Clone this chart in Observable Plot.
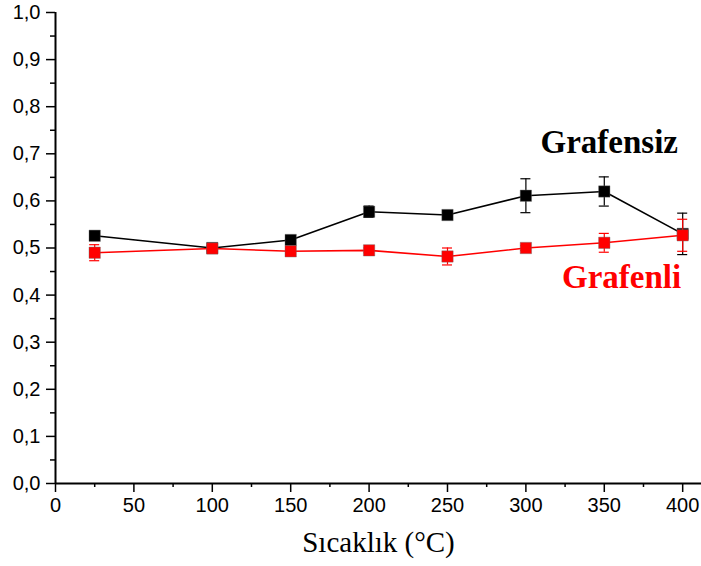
<!DOCTYPE html>
<html>
<head>
<meta charset="utf-8">
<script src="https://cdn.jsdelivr.net/npm/d3@7"></script>
<script src="https://cdn.jsdelivr.net/npm/@observablehq/plot@0.6"></script>
<style>
  html, body { margin: 0; padding: 0; background: #fff; }
  #chart svg { display: block; }
</style>
</head>
<body>
<div id="chart"></div>
<script>
// --- data ---
const temps = [25, 100, 150, 200, 250, 300, 350, 400];
const grafensiz = [0.526, 0.500, 0.517, 0.577, 0.570, 0.611, 0.620, 0.530];
const grafensizErr = [0.005, 0.005, 0.006, 0.012, 0.007, 0.036, 0.031, 0.044];
const grafenli = [0.490, 0.499, 0.493, 0.495, 0.482, 0.500, 0.511, 0.527];
const grafenliErr = [0.017, 0.006, 0.005, 0.005, 0.018, 0.005, 0.020, 0.034];

const xTicks = [0, 50, 100, 150, 200, 250, 300, 350, 400];
const xMinorTicks = [25, 75, 125, 175, 225, 275, 325, 375];
const yTicks = [0, 0.1, 0.2, 0.3, 0.4, 0.5, 0.6, 0.7, 0.8, 0.9, 1.0];
const yMinorTicks = [0.05, 0.15, 0.25, 0.35, 0.45, 0.55, 0.65, 0.75, 0.85, 0.95];

const seriesNames = ["Grafensiz", "Grafenli"];
const seriesColors = ["#000000", "#ff0000"];
const seriesLabelX = [397, 399];
const seriesLabelY = [0.725, 0.4365];
const xAxisTitle = "Sıcaklık (°C)";

// --- build table ---
const rows = [];
[grafensiz, grafenli].forEach((vals, s) => {
  const errs = s === 0 ? grafensizErr : grafenliErr;
  temps.forEach((t, i) => rows.push({series: seriesNames[s], x: t, y: vals[i], e: errs[i]}));
});
const labels = seriesNames.map((n, i) => ({name: n, x: seriesLabelX[i], y: seriesLabelY[i]}));
const comma = d => d.toFixed(1).replace(".", ",");
const capHalf = 3.2;

const marks = [];
seriesNames.forEach((name, s) => {
  const data = rows.filter(r => r.series === name);
  const c = seriesColors[s];
  marks.push(
    Plot.line(data, {x: "x", y: "y", stroke: c, strokeWidth: 1.6}),
    Plot.ruleX(data, {x: "x", y1: d => d.y - d.e, y2: d => d.y + d.e, stroke: c, strokeWidth: 1.2}),
    Plot.ruleY(data, {y: d => d.y - d.e, x1: d => d.x - capHalf, x2: d => d.x + capHalf, stroke: c, strokeWidth: 1.2}),
    Plot.ruleY(data, {y: d => d.y + d.e, x1: d => d.x - capHalf, x2: d => d.x + capHalf, stroke: c, strokeWidth: 1.2}),
    Plot.dot(data, {x: "x", y: "y", symbol: "square", r: 6.4, fill: c, stroke: "#666", strokeWidth: 0.4})
  );
});

const chart = Plot.plot({
  width: 701,
  height: 566,
  marginLeft: 55,
  marginRight: 0,
  marginTop: 12,
  marginBottom: 83,
  style: {fontFamily: "'Liberation Sans', Arial, sans-serif", fontSize: "20px", color: "#000", background: "#fff"},
  x: {domain: [0, 412], label: null},
  y: {domain: [0, 1], label: null},
  marks: [
    Plot.axisY(yMinorTicks, {tickSize: 5, tickFormat: () => "", strokeWidth: 1.5, label: null}),
    Plot.axisY(yTicks, {tickSize: 9, tickPadding: 6, tickFormat: comma, strokeWidth: 1.5, fontSize: 20, label: null}),
    Plot.axisX(xMinorTicks, {tickSize: 4, tickFormat: () => "", strokeWidth: 1.5, label: null}),
    Plot.axisX(xTicks, {tickSize: 9, tickPadding: 5, tickFormat: d => String(d), strokeWidth: 1.5, fontSize: 20, label: null}),
    Plot.ruleX([0], {stroke: "#000", strokeWidth: 2}),
    Plot.ruleY([0], {stroke: "#000", strokeWidth: 2}),
    ...marks,
    Plot.text(labels, {x: "x", y: "y", text: "name", fill: (d, i) => seriesColors[i], textAnchor: "end",
      fontFamily: "'Liberation Serif', 'Times New Roman', serif", fontWeight: "bold", fontSize: 33}),
    Plot.text([xAxisTitle], {text: d => d, frameAnchor: "bottom", lineAnchor: "middle", dy: 59,
      fontFamily: "'Liberation Serif', 'Times New Roman', serif", fontSize: 29, fill: "#000"})
  ]
});
document.getElementById("chart").appendChild(chart);
</script>
</body>
</html>
